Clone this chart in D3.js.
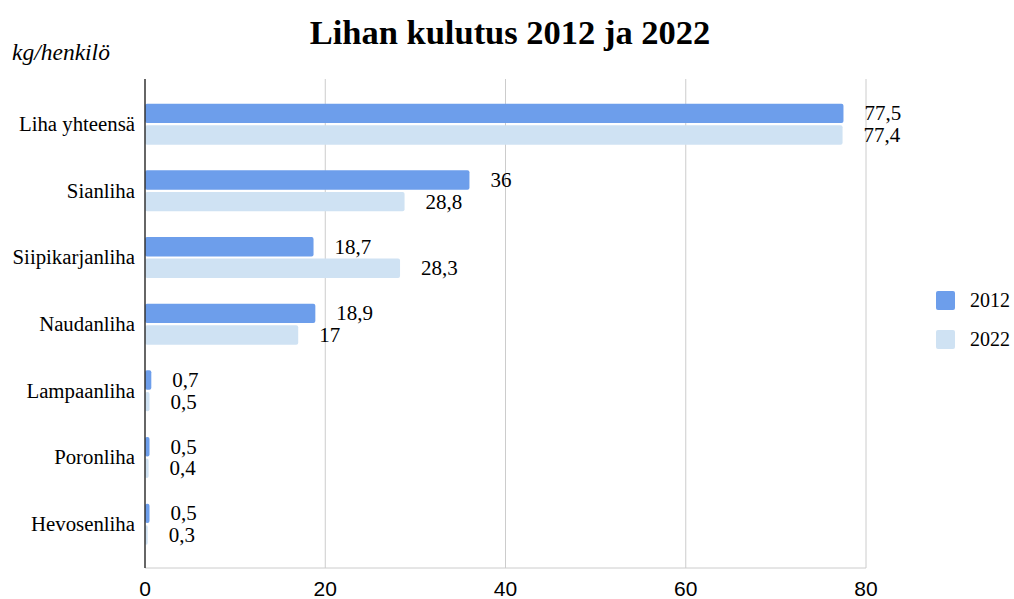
<!DOCTYPE html>
<html>
<head>
<meta charset="utf-8">
<script src="https://cdn.jsdelivr.net/npm/d3@7"></script>
<style>
  body { margin: 0; background: #fff; }
</style>
</head>
<body>
<div id="chart"></div>
<script>
var categories = ["Liha yhteensä", "Sianliha", "Siipikarjanliha", "Naudanliha", "Lampaanliha", "Poronliha", "Hevosenliha"];
var years = ["2012", "2022"];
var values2012 = [77.5, 36, 18.7, 18.9, 0.7, 0.5, 0.5];
var values2022 = [77.4, 28.8, 28.3, 17, 0.5, 0.4, 0.3];
var xTicks = [0, 20, 40, 60, 80];
var colors = ["#6d9eeb", "#cfe2f3"];

var width = 1014,
    height = 599,
    left = 145,
    right = 866,
    plotTop = 79,
    plotBottom = 568;

var serif = "'Liberation Serif', 'Times New Roman', serif",
    sans = "'Liberation Sans', Arial, sans-serif";

var svg = d3.select("#chart").append("svg")
    .attr("width", width)
    .attr("height", height);

var x = d3.scaleLinear().domain([0, 80]).range([left, right]);
var y = d3.scaleBand().domain(categories).range([90.7, 557.3]);
var inner = d3.scaleBand().domain(years).range([13, 54]).paddingInner(0.1);

// gridlines
svg.append("g").selectAll("line")
    .data(xTicks.slice(1))
    .enter().append("line")
    .attr("x1", function(d) { return x(d); })
    .attr("x2", function(d) { return x(d); })
    .attr("y1", plotTop)
    .attr("y2", plotBottom)
    .attr("stroke", "#cccccc")
    .attr("stroke-width", 1);

svg.append("line")
    .attr("x1", left).attr("x2", right)
    .attr("y1", plotBottom).attr("y2", plotBottom)
    .attr("stroke", "#cccccc");

// tick labels
svg.append("g").selectAll("text")
    .data(xTicks)
    .enter().append("text")
    .attr("x", function(d) { return x(d); })
    .attr("y", 596)
    .attr("text-anchor", "middle")
    .attr("font-family", sans)
    .attr("font-size", 21)
    .attr("fill", "#000")
    .text(function(d) { return d; });

var rows = categories.map(function(c, i) {
    return { cat: c, vals: [values2012[i], values2022[i]] };
});

var groups = svg.append("g").selectAll(".group")
    .data(rows)
    .enter().append("g")
    .attr("class", "group")
    .attr("transform", function(d) { return "translate(0," + y(d.cat) + ")"; });

var fmt = function(v) { return String(v).replace(".", ","); };

groups.each(function(d) {
    var g = d3.select(this);
    years.forEach(function(yr, j) {
        var v = d.vals[j];
        g.append("rect")
            .attr("x", x(0))
            .attr("y", inner(yr))
            .attr("width", Math.max(x(v) - x(0), 2))
            .attr("height", inner.bandwidth())
            .attr("rx", 2)
            .attr("fill", colors[j]);
        g.append("text")
            .attr("x", x(v) + 21)
            .attr("y", inner(yr) + inner.bandwidth() / 2 + 7)
            .attr("font-family", serif)
            .attr("font-size", 21)
            .attr("fill", "#000")
            .text(fmt(v));
    });
    g.append("text")
        .attr("x", 135)
        .attr("y", y.bandwidth() / 2 + 7)
        .attr("text-anchor", "end")
        .attr("font-family", serif)
        .attr("font-size", 20.8)
        .attr("fill", "#000")
        .text(d.cat);
});

// left axis line
svg.append("line")
    .attr("x1", left).attr("x2", left)
    .attr("y1", plotTop).attr("y2", plotBottom)
    .attr("stroke", "#333")
    .attr("stroke-width", 1.5);

// title
svg.append("text")
    .attr("x", 510)
    .attr("y", 44)
    .attr("text-anchor", "middle")
    .attr("font-family", serif)
    .attr("font-weight", "bold")
    .attr("font-size", 34.5)
    .attr("fill", "#000")
    .text("Lihan kulutus 2012 ja 2022");

svg.append("text")
    .attr("x", 12)
    .attr("y", 60)
    .attr("font-family", serif)
    .attr("font-style", "italic")
    .attr("font-size", 23.5)
    .attr("fill", "#000")
    .text("kg/henkilö");

// legend
var legend = svg.append("g").selectAll("g")
    .data(years)
    .enter().append("g")
    .attr("transform", function(d, i) { return "translate(936," + (291 + i * 39) + ")"; });

legend.append("rect")
    .attr("width", 19)
    .attr("height", 19)
    .attr("rx", 2)
    .attr("fill", function(d, i) { return colors[i]; });

legend.append("text")
    .attr("x", 34)
    .attr("y", 16)
    .attr("font-family", serif)
    .attr("font-size", 20)
    .attr("fill", "#000")
    .text(function(d) { return d; });
</script>
</body>
</html>
